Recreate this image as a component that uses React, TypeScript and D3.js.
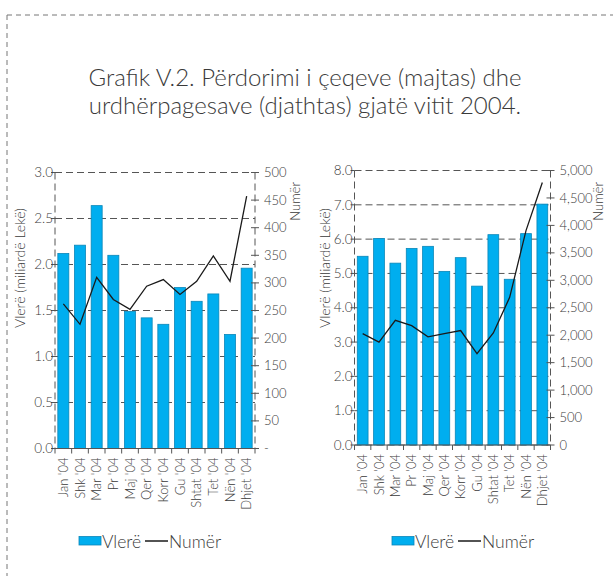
import * as d3 from 'd3';

const months = ["Jan '04", "Shk '04", "Mar '04", "Pr '04", "Maj '04", "Qer '04", "Korr '04", "Gu '04", "Shtat '04", "Tet '04", "Nën '04", "Dhjet '04"];

// left panel: cheques
const chequeValue = [2.12, 2.21, 2.64, 2.1, 1.49, 1.42, 1.35, 1.75, 1.6, 1.68, 1.24, 1.96];
const chequeCount = [262, 225, 310, 270, 252, 294, 306, 279, 303, 349, 303, 457];
const chequeValueTicks = [0, 0.5, 1, 1.5, 2, 2.5, 3];
const chequeCountTicks = [0, 50, 100, 150, 200, 250, 300, 350, 400, 450, 500];

// right panel: payment orders
const orderValue = [5.5, 6.02, 5.3, 5.73, 5.79, 5.06, 5.46, 4.63, 6.13, 4.83, 6.16, 7.02];
const orderCount = [2030, 1875, 2270, 2175, 1970, 2030, 2085, 1665, 2040, 2690, 3905, 4780];
const orderValueTicks = [0, 1, 2, 3, 4, 5, 6, 7, 8];
const orderCountTicks = [0, 500, 1000, 1500, 2000, 2500, 3000, 3500, 4000, 4500, 5000];

const titleLines = ['Grafik V.2. Përdorimi i çeqeve (majtas) dhe', 'urdhërpagesave (djathtas) gjatë vitit 2004.'];

const font = 'Lato, "Noto Sans", sans-serif';
const textColor = '#3a3a3a';
const gridColor = '#555';
const barFill = '#00aeef';
const barStroke = '#0a86b8';

type PanelProps = {
  values: number[];
  counts: number[];
  valueTicks: number[];
  countTicks: number[];
  countFormat: (v: number) => string;
  left: number;
  right: number;
  top: number;
  bottom: number;
  yTitleX: number;
  countTitleX: number;
  legendX: number;
};

function Panel(p: PanelProps) {
  const x = d3.scaleBand<string>().domain(months).range([p.left, p.right]).paddingInner(0.34).paddingOuter(0.17);
  const y = d3.scaleLinear().domain([0, d3.max(p.valueTicks)!]).range([p.bottom, p.top]);
  const y2 = d3.scaleLinear().domain([0, d3.max(p.countTicks)!]).range([p.bottom, p.top]);
  const line = d3
    .line<number>()
    .x((_, i) => x(months[i])! + x.bandwidth() / 2)
    .y((d) => y2(d));
  const fmt = d3.format('.1f');
  const boundaries = d3.range(months.length + 1).map((i) => p.left + i * x.step());

  return (
    <g fontFamily={font} fill={textColor} fontWeight={300}>
      {/* grid */}
      {p.valueTicks.map((t) => (
        <line key={'g' + t} x1={p.left} x2={p.right} y1={y(t)} y2={y(t)} stroke={gridColor} strokeDasharray="7,4" strokeWidth={1} />
      ))}
      <line x1={p.left} x2={p.left} y1={p.top} y2={p.bottom} stroke={gridColor} strokeDasharray="7,4" />
      <line x1={p.right} x2={p.right} y1={p.top} y2={p.bottom} stroke={gridColor} strokeDasharray="7,4" />

      {/* bars */}
      {p.values.map((v, i) => (
        <rect
          key={months[i]}
          x={x(months[i])}
          y={y(v)}
          width={x.bandwidth()}
          height={p.bottom - y(v)}
          fill={barFill}
          stroke={barStroke}
          strokeWidth={0.8}
        />
      ))}

      {/* x axis */}
      <line x1={p.left} x2={p.right} y1={p.bottom} y2={p.bottom} stroke={gridColor} strokeWidth={1} />
      {boundaries.map((bx, i) => (
        <line key={'xt' + i} x1={bx} x2={bx} y1={p.bottom} y2={p.bottom + 5} stroke={gridColor} />
      ))}
      {months.map((m) => {
        const cx = x(m)! + x.bandwidth() / 2;
        return (
          <text key={'xl' + m} transform={`translate(${cx + 4.5},${p.bottom + 9}) rotate(-90)`} textAnchor="end" fontSize={13}>
            {m}
          </text>
        );
      })}

      {/* left axis */}
      {p.valueTicks.map((t) => (
        <g key={'yl' + t}>
          <line x1={p.left - 4} x2={p.left} y1={y(t)} y2={y(t)} stroke={gridColor} />
          <text x={p.left - 2} y={y(t)} dy="0.35em" textAnchor="end" fontSize={13.5}>
            {fmt(t)}
          </text>
        </g>
      ))}

      {/* right axis */}
      {p.countTicks.map((t) => (
        <g key={'yr' + t}>
          <line x1={p.right - 4} x2={p.right + 4} y1={y2(t)} y2={y2(t)} stroke={gridColor} />
          <text x={p.right + 9} y={y2(t)} dy="0.35em" textAnchor="start" fontSize={13}>
            {p.countFormat(t)}
          </text>
        </g>
      ))}

      {/* series line */}
      <path d={line(p.counts)!} fill="none" stroke="#1a1a1a" strokeWidth={1.3} />

      {/* axis titles */}
      <text transform={`translate(${p.yTitleX},268) rotate(-90)`} textAnchor="middle" fontSize={14}>
        Vlerë (miliardë Lekë)
      </text>
      <text transform={`translate(${p.countTitleX},182) rotate(-90)`} textAnchor="end" fontSize={13}>
        Numër
      </text>

      {/* legend */}
      <rect x={p.legendX} y={536.5} width={22} height={8.5} fill={barFill} stroke={barStroke} strokeWidth={0.8} />
      <text x={p.legendX + 23} y={548} fontSize={17.5}>
        Vlerë
      </text>
      <line x1={p.legendX + 66} x2={p.legendX + 89} y1={541} y2={541} stroke="#1a1a1a" strokeWidth={1.5} />
      <text x={p.legendX + 90} y={548} fontSize={17.5}>
        Numër
      </text>
    </g>
  );
}

export default function App() {
  const leftCountFmt = (v: number) => (v === 0 ? '-' : String(v));
  const rightCountFmt = d3.format(',');
  return (
    <svg width={613} height={576} style={{ position: 'absolute', left: 0, top: 0, background: '#fff' }}>
      <rect width={613} height={576} fill="#fff" />
      {/* dashed frame */}
      <line x1={7} x2={613} y1={15} y2={15} stroke="#777" strokeDasharray="5,4" />
      <line x1={7} x2={7} y1={15} y2={576} stroke="#777" strokeDasharray="5,4" />

      <g fontFamily={font} fill={textColor} fontSize={24} fontWeight={300} textAnchor="middle">
        {titleLines.map((t, i) => (
          <text key={i} x={305} y={86 + i * 28}>
            {t}
          </text>
        ))}
      </g>

      <Panel
        values={chequeValue}
        counts={chequeCount}
        valueTicks={chequeValueTicks}
        countTicks={chequeCountTicks}
        countFormat={leftCountFmt}
        left={55}
        right={255}
        top={172.5}
        bottom={448.5}
        yTitleX={25}
        countTitleX={300}
        legendX={79}
      />
      <Panel
        values={orderValue}
        counts={orderCount}
        valueTicks={orderValueTicks}
        countTicks={orderCountTicks}
        countFormat={rightCountFmt}
        left={354.5}
        right={550.5}
        top={170.5}
        bottom={445}
        yTitleX={330}
        countTitleX={603}
        legendX={392}
      />
    </svg>
  );
}
